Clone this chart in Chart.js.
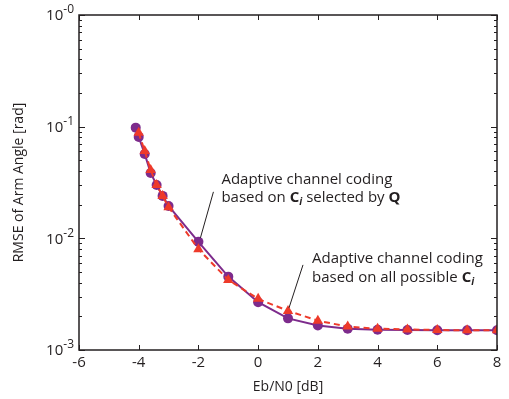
<!DOCTYPE html>
<html>
<head>
<meta charset="utf-8">
<script src="https://cdn.jsdelivr.net/npm/chart.js@4.4.1/dist/chart.umd.min.js"></script>
<style>
  html, body { margin: 0; padding: 0; background: #fff; }
</style>
</head>
<body>
<canvas id="chartContainer" width="509" height="399"></canvas>
<script>
// data
var ebnoQ   = [-4.1, -4.0, -3.8, -3.6, -3.4, -3.2, -3.0, -2, -1, 0, 1, 2, 3, 4, 5, 6, 7, 8];
var rmseQ   = [0.098, 0.081, 0.057, 0.0385, 0.030, 0.024, 0.0195, 0.0093, 0.00454, 0.00268, 0.00192, 0.00166, 0.00155, 0.00152, 0.00151, 0.0015, 0.0015, 0.0015];
var ebnoAll = [-4.0, -3.8, -3.6, -3.4, -3.2, -3.0, -2, -1, 0, 1, 2, 3, 4, 5, 6, 7, 8];
var rmseAll = [0.088, 0.0606, 0.041, 0.030, 0.024, 0.019, 0.0080, 0.00424, 0.00287, 0.00224, 0.00183, 0.00162, 0.00155, 0.00153, 0.00151, 0.0015, 0.0015, 0.0015];
var xTicks  = [-6, -4, -2, 0, 2, 4, 6, 8];
var yDecades = [0.001, 0.01, 0.1, 1];
var yExps    = ['-3', '-2', '-1', '-0'];

var FONT = '"Open Sans", "Noto Sans", sans-serif';
var ink = '#231f20';
var purple = '#7d2b8c';
var red = '#ee3a2a';

function pts(xs, ys) {
  return xs.map(function (x, i) { return { x: x, y: ys[i] }; });
}

// box, inner ticks, y labels with raised exponent, and the two callouts
var framePlugin = {
  id: 'frame',
  afterDraw: function (chart) {
    var ctx = chart.ctx, a = chart.chartArea;
    var xs = chart.scales.x, ys = chart.scales.y;
    ctx.save();
    ctx.strokeStyle = ink;
    ctx.lineWidth = 1.5;
    ctx.strokeRect(a.left, a.top, a.right - a.left, a.bottom - a.top);
    ctx.lineWidth = 1;
    ctx.beginPath();
    xTicks.forEach(function (v) {
      var p = Math.round(xs.getPixelForValue(v)) + 0.5;
      ctx.moveTo(p, a.bottom); ctx.lineTo(p, a.bottom - 5);
      ctx.moveTo(p, a.top); ctx.lineTo(p, a.top + 5);
    });
    for (var d = 0; d < yDecades.length; d++) {
      for (var m = 1; m <= 9; m++) {
        var v = yDecades[d] * m;
        if (v > 1.0001) break;
        var p = Math.round(ys.getPixelForValue(v)) + 0.5;
        var len = m === 1 ? 6 : 3;
        ctx.moveTo(a.left, p); ctx.lineTo(a.left + len, p);
        ctx.moveTo(a.right, p); ctx.lineTo(a.right - len, p);
      }
    }
    ctx.stroke();

    ctx.fillStyle = ink;
    ctx.textBaseline = 'middle';

    // y tick labels: 10 with a raised exponent
    yDecades.forEach(function (v, i) {
      var y = ys.getPixelForValue(v);
      ctx.font = '12px ' + FONT;
      var ew = ctx.measureText(yExps[i]).width;
      ctx.textAlign = 'right';
      ctx.fillText(yExps[i], a.left - 5, y - 5);
      ctx.font = '15px ' + FONT;
      ctx.fillText('10', a.left - 5 - ew, y + 1);
    });

    // leader lines
    ctx.lineWidth = 1;
    ctx.beginPath();
    ctx.moveTo(xs.getPixelForValue(-2) + 2, ys.getPixelForValue(0.0093) - 4);
    ctx.lineTo(xs.getPixelForValue(-2) + 15, ys.getPixelForValue(0.0093) - 50);
    ctx.moveTo(xs.getPixelForValue(1) + 1, ys.getPixelForValue(0.00224) - 3);
    ctx.lineTo(xs.getPixelForValue(1) + 15, ys.getPixelForValue(0.00224) - 46);
    ctx.stroke();

    ctx.textAlign = 'left';
    function rich(parts, x, y) {
      parts.forEach(function (p) {
        ctx.font = p[1];
        var dy = p[2] || 0;
        ctx.fillText(p[0], x, y + dy);
        x += ctx.measureText(p[0]).width;
      });
    }
    var reg = '15px ' + FONT, bold = 'bold 15px ' + FONT, sub = 'italic bold 10px ' + FONT;
    var x1 = xs.getPixelForValue(-2) + 23, y1 = ys.getPixelForValue(0.0093) - 62;
    rich([['Adaptive channel coding', reg]], x1, y1);
    rich([['based on ', reg], ['C', bold], ['i', sub, 4], [' selected by ', reg], ['Q', bold]], x1, y1 + 18);
    var x2 = xs.getPixelForValue(1) + 24, y2 = ys.getPixelForValue(0.00224) - 52;
    rich([['Adaptive channel coding', reg]], x2, y2);
    rich([['based on all possible ', reg], ['C', bold], ['i', sub, 4]], x2, y2 + 19);
    ctx.restore();
  }
};

var ctx = document.getElementById('chartContainer').getContext('2d');
var chart = new Chart(ctx, {
  type: 'scatter',
  data: {
    datasets: [{
      label: 'Adaptive channel coding based on all possible Ci',
      data: pts(ebnoAll, rmseAll),
      showLine: true,
      borderColor: red,
      backgroundColor: red,
      borderWidth: 2,
      borderDash: [6, 4],
      pointStyle: 'triangle',
      pointRadius: 6,
      pointBorderWidth: 0
    }, {
      label: 'Adaptive channel coding based on Ci selected by Q',
      data: pts(ebnoQ, rmseQ),
      showLine: true,
      borderColor: purple,
      backgroundColor: purple,
      borderWidth: 2,
      pointStyle: 'circle',
      pointRadius: 5,
      pointBorderWidth: 0
    }]
  },
  options: {
    responsive: false,
    animation: false,
    layout: { padding: { top: 15, right: 12, left: 0, bottom: 0 } },
    plugins: { legend: { display: false }, tooltip: { enabled: false } },
    scales: {
      x: {
        type: 'linear',
        min: -6, max: 8,
        grid: { display: false, drawTicks: false },
        border: { display: false },
        afterFit: function (s) { s.height = 49; },
        afterBuildTicks: function (s) { s.ticks = xTicks.map(function (v) { return { value: v }; }); },
        ticks: { color: ink, padding: 4, font: { family: FONT, size: 15 }, maxRotation: 0 },
        title: { display: true, text: 'Eb/N0 [dB]', color: ink, font: { family: FONT, size: 14 }, padding: { top: 0, bottom: 4 } }
      },
      y: {
        type: 'logarithmic',
        min: 0.001, max: 1,
        grid: { display: false, drawTicks: false },
        border: { display: false },
        afterFit: function (s) { s.width = 79; },
        afterBuildTicks: function (s) { s.ticks = yDecades.map(function (v) { return { value: v }; }); },
        ticks: { display: false },
        title: { display: true, text: 'RMSE of Arm Angle [rad]', color: ink, font: { family: FONT, size: 14 }, padding: { top: 11, bottom: 0 } }
      }
    }
  },
  plugins: [framePlugin]
});
</script>
</body>
</html>
